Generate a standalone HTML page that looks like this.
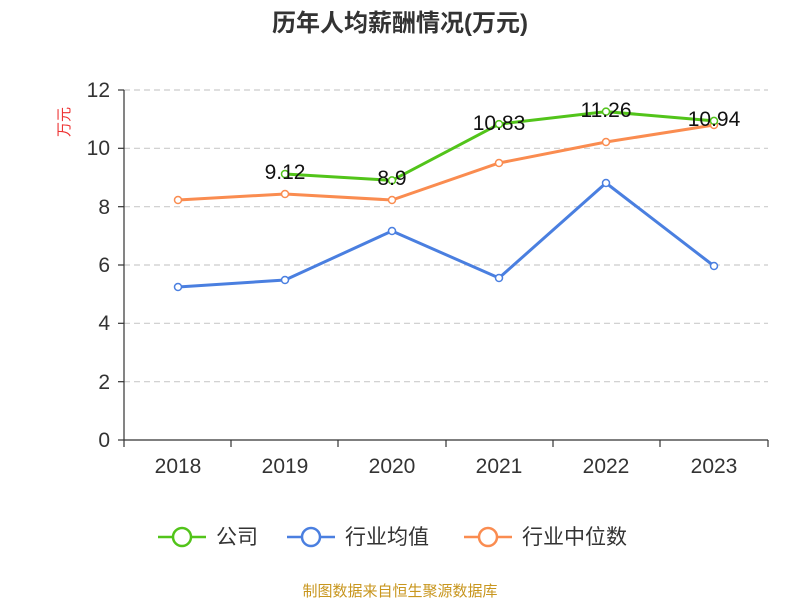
<!DOCTYPE html>
<html><head><meta charset="utf-8"><style>
body{margin:0;background:#fff;font-family:"Liberation Sans","Noto Sans CJK SC",sans-serif;}
</style></head><body>
<svg width="800" height="600" viewBox="0 0 800 600" xmlns="http://www.w3.org/2000/svg" font-family="Liberation Sans, Noto Sans CJK SC, sans-serif">
<rect width="800" height="600" fill="#fff"/>
<text x="400" y="31" text-anchor="middle" font-size="24" font-weight="bold" fill="#333">历年人均薪酬情况(万元)</text>
<text transform="translate(69,122) rotate(-90)" text-anchor="middle" font-size="15" fill="#e33">万元</text>
<g stroke="#ccc" stroke-dasharray="6,4" stroke-width="1.2">
<line x1="124" x2="768" y1="90" y2="90"/><line x1="124" x2="768" y1="148.3" y2="148.3"/>
<line x1="124" x2="768" y1="206.7" y2="206.7"/><line x1="124" x2="768" y1="265" y2="265"/>
<line x1="124" x2="768" y1="323.3" y2="323.3"/><line x1="124" x2="768" y1="381.7" y2="381.7"/>
</g>
<g stroke="#333" stroke-width="1.2">
<line x1="124" x2="124" y1="90" y2="440"/><line x1="124" x2="768" y1="440" y2="440"/>
<line x1="118" x2="124" y1="90" y2="90"/><line x1="118" x2="124" y1="148.3" y2="148.3"/><line x1="118" x2="124" y1="206.7" y2="206.7"/><line x1="118" x2="124" y1="265" y2="265"/><line x1="118" x2="124" y1="323.3" y2="323.3"/><line x1="118" x2="124" y1="381.7" y2="381.7"/><line x1="118" x2="124" y1="440" y2="440"/>
<line x1="124" x2="124" y1="440" y2="447"/><line x1="231" x2="231" y1="440" y2="447"/><line x1="338" x2="338" y1="440" y2="447"/><line x1="446" x2="446" y1="440" y2="447"/><line x1="553" x2="553" y1="440" y2="447"/><line x1="660" x2="660" y1="440" y2="447"/><line x1="768" x2="768" y1="440" y2="447"/>
</g>
<g font-size="21" fill="#333" text-anchor="end">
<text x="110" y="97">12</text><text x="110" y="155">10</text><text x="110" y="214">8</text><text x="110" y="272">6</text><text x="110" y="330">4</text><text x="110" y="389">2</text><text x="110" y="447">0</text>
</g>
<g font-size="21" fill="#333" text-anchor="middle">
<text x="178" y="473">2018</text><text x="285" y="473">2019</text><text x="392" y="473">2020</text><text x="499" y="473">2021</text><text x="606" y="473">2022</text><text x="714" y="473">2023</text>
</g>
<g fill="none" stroke-width="3">
<polyline stroke="#fa8c50" points="178,200 285,194 392,200 499,163 606,142 714,125"/>
<polyline stroke="#4a7fe0" points="178,287 285,280 392,231 499,278 606,183 714,266"/>
<polyline stroke="#52c41a" points="285,174 392,180.4 499,124.1 606,111.6 714,120.9"/>
</g>
<g fill="#fff" stroke-width="1.5">
<g stroke="#fa8c50"><circle cx="178" cy="200" r="3.5"/><circle cx="285" cy="194" r="3.5"/><circle cx="392" cy="200" r="3.5"/><circle cx="499" cy="163" r="3.5"/><circle cx="606" cy="142" r="3.5"/><circle cx="714" cy="125" r="3.5"/></g>
<g stroke="#4a7fe0"><circle cx="178" cy="287" r="3.5"/><circle cx="285" cy="280" r="3.5"/><circle cx="392" cy="231" r="3.5"/><circle cx="499" cy="278" r="3.5"/><circle cx="606" cy="183" r="3.5"/><circle cx="714" cy="266" r="3.5"/></g>
<g stroke="#52c41a"><circle cx="285" cy="174" r="3.5"/><circle cx="392" cy="180.4" r="3.5"/><circle cx="499" cy="124.1" r="3.5"/><circle cx="606" cy="111.6" r="3.5"/><circle cx="714" cy="120.9" r="3.5"/></g>
</g>
<g font-size="21" fill="#111" text-anchor="middle">
<text x="285" y="179">9.12</text><text x="392" y="185">8.9</text><text x="499" y="130">10.83</text><text x="606" y="117">11.26</text><text x="714" y="126">10.94</text>
</g>
<g stroke-width="2.5" fill="#fff">
<line x1="158" x2="206" y1="537" y2="537" stroke="#52c41a"/><circle cx="182" cy="537" r="9" stroke="#52c41a"/>
<line x1="287" x2="335" y1="537" y2="537" stroke="#4a7fe0"/><circle cx="311" cy="537" r="9" stroke="#4a7fe0"/>
<line x1="464" x2="512" y1="537" y2="537" stroke="#fa8c50"/><circle cx="488" cy="537" r="9" stroke="#fa8c50"/>
</g>
<g font-size="21" fill="#333">
<text x="216" y="544">公司</text><text x="345" y="544">行业均值</text><text x="522" y="544">行业中位数</text>
</g>
<text x="400" y="596" text-anchor="middle" font-size="15" fill="#c8961e">制图数据来自恒生聚源数据库</text>
</svg>
</body></html>
